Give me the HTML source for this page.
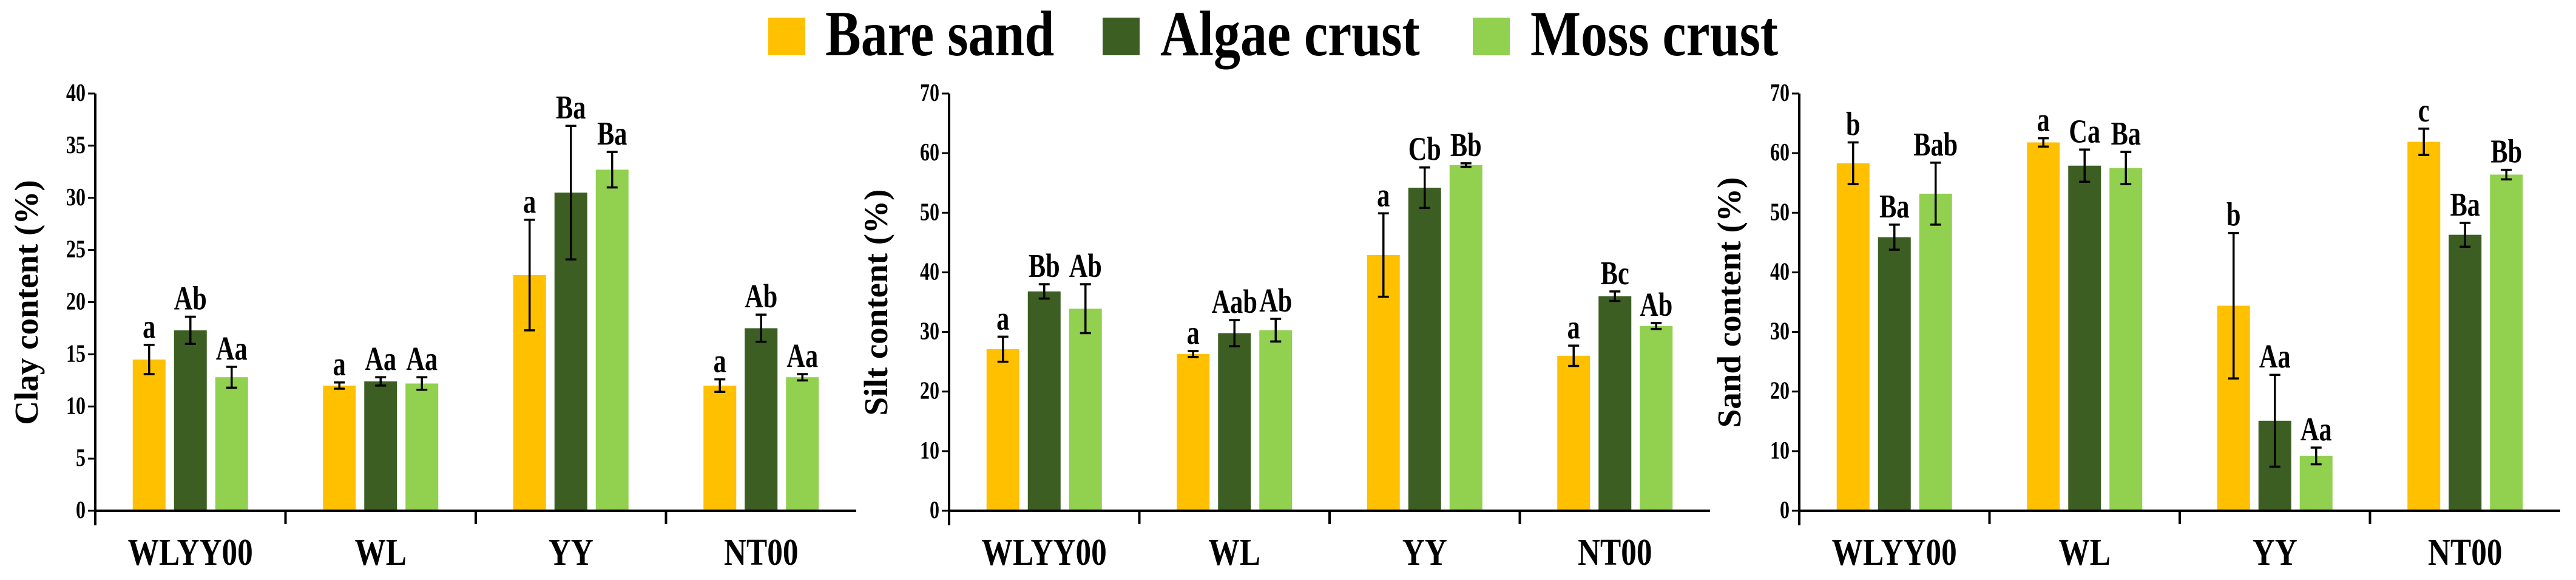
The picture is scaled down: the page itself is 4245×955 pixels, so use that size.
<!DOCTYPE html>
<html><head><meta charset="utf-8"><style>
html,body{margin:0;padding:0;background:#fff;}
svg{display:block;font-family:"Liberation Serif",serif;font-weight:bold;}
</style></head><body>
<svg id="chart" width="4245" height="955" viewBox="0 0 4245 955" xmlns="http://www.w3.org/2000/svg">
<g>
<rect x="1266" y="29" width="61" height="62" fill="#FFC000"/>
<text transform="translate(1360,91) scale(1,1.2)" font-size="88">Bare sand</text>
<rect x="1817" y="29" width="61" height="62" fill="#3D5E22"/>
<text transform="translate(1912,91) scale(1,1.2)" font-size="88">Algae crust</text>
<rect x="2427" y="29" width="61" height="62" fill="#92D050"/>
<text transform="translate(2522,91) scale(1,1.2)" font-size="88">Moss crust</text>
</g>
</svg>
<script>
const categories = ["WLYY00","WL","YY","NT00"];
const seriesNames = ["Bare sand","Algae crust","Moss crust"];
const colors = ["#FFC000","#3D5E22","#92D050"];

const clayValues = [[14.5,17.3,12.8],[12.0,12.4,12.2],[22.6,30.5,32.7],[12.0,17.5,12.8]];
const clayErrors = [[1.4,1.3,1.0],[0.3,0.4,0.6],[5.3,6.4,1.7],[0.6,1.3,0.3]];
const clayLetters = [["a","Ab","Aa"],["a","Aa","Aa"],["a","Ba","Ba"],["a","Ab","Aa"]];
const clayTicks = [0,5,10,15,20,25,30,35,40];

const siltValues = [[27.1,36.8,33.9],[26.3,29.8,30.3],[42.9,54.2,58.0],[26.0,36.0,31.0]];
const siltErrors = [[2.1,1.2,4.1],[0.5,2.2,1.9],[7.0,3.4,0.3],[1.7,0.8,0.5]];
const siltLetters = [["a","Bb","Ab"],["a","Aab","Ab"],["a","Cb","Bb"],["a","Bc","Ab"]];
const siltTicks = [0,10,20,30,40,50,60,70];

const sandValues = [[58.3,45.9,53.2],[61.8,57.9,57.5],[34.4,15.1,9.2],[61.9,46.3,56.4]];
const sandErrors = [[3.5,2.1,5.2],[0.7,2.7,2.7],[12.2,7.7,1.4],[2.2,2.0,0.8]];
const sandLetters = [["b","Ba","Bab"],["a","Ca","Ba"],["b","Aa","Aa"],["c","Ba","Bb"]];
const sandTicks = [0,10,20,30,40,50,60,70];

const NS="http://www.w3.org/2000/svg";
const svg=document.getElementById('chart');
function mk(tag,attrs,parent){const e=document.createElementNS(NS,tag);for(const k in attrs)e.setAttribute(k,attrs[k]);parent.appendChild(e);return e;}

function panel(name,x0,titleX,title,values,errors,letters,ticks){
  const yTop=154,yBot=841,W=1254,ymax=ticks[ticks.length-1];
  const y=v=>yBot-(v/ymax)*(yBot-yTop);
  const catW=W/4;
  const xc=i=>x0+catW*(i+0.5);
  const g=mk('g',{},svg);
  
  
  values.forEach((grp,i)=>{grp.forEach((v,j)=>{
    const cx=xc(i)+(j-1)*68, bw=54;
    const r=mk('rect',{x:cx-bw/2,y:y(v),width:bw,height:y(0)-y(v),fill:colors[j]},g);
    
    
    const e=errors[i][j], top=y(v+e), bot=y(v-e);
    const eb=mk('path',{d:`M${cx},${top}V${bot}M${cx-9},${top}H${cx+9}M${cx-9},${bot}H${cx+9}`,stroke:'#000','stroke-width':3.5,fill:'none'},g);
    
    
    const t=mk('text',{'font-size':46,'text-anchor':'middle',transform:`translate(${cx},${top-12}) scale(0.92,1.2)`},g);
    t.textContent=letters[i][j];
    
    
  });});
  const ax=mk('path',{d:`M${x0},${yTop}V${yBot+24}M${x0},${yBot}H${x0+W}`,stroke:'#000','stroke-width':4,fill:'none'},g);
  
  
  for(let k=1;k<4;k++){
    const tk=mk('path',{d:`M${x0+catW*k},${yBot}V${yBot+22}`,stroke:'#000','stroke-width':4},g);
    
    
  }
  ticks.forEach(v=>{
    const tk=mk('path',{d:`M${x0-12},${y(v)}H${x0}`,stroke:'#000','stroke-width':3},g);
    
    
    const t=mk('text',{'font-size':32,'text-anchor':'end',transform:`translate(${x0-16},${y(v)+12}) scale(1,1.3)`},g);
    t.textContent=v;
    
    
  });
  categories.forEach((c,i)=>{
    const t=mk('text',{'font-size':54,'text-anchor':'middle',transform:`translate(${xc(i)},930) scale(0.95,1.15)`},g);
    t.textContent=c;
    
    
  });
  const tt=mk('text',{x:0,y:0,'font-size':50,'text-anchor':'middle',transform:`translate(${titleX},498) rotate(-90) scale(1.1,1.1)`},g);
  tt.textContent=title;
  
  
}
panel('clay',157,62,'Clay content (%)',clayValues,clayErrors,clayLetters,clayTicks);
panel('silt',1564,1462,'Silt content (%)',siltValues,siltErrors,siltLetters,siltTicks);
panel('sand',2965,2868,'Sand content (%)',sandValues,sandErrors,sandLetters,sandTicks);
</script>
</body></html>
